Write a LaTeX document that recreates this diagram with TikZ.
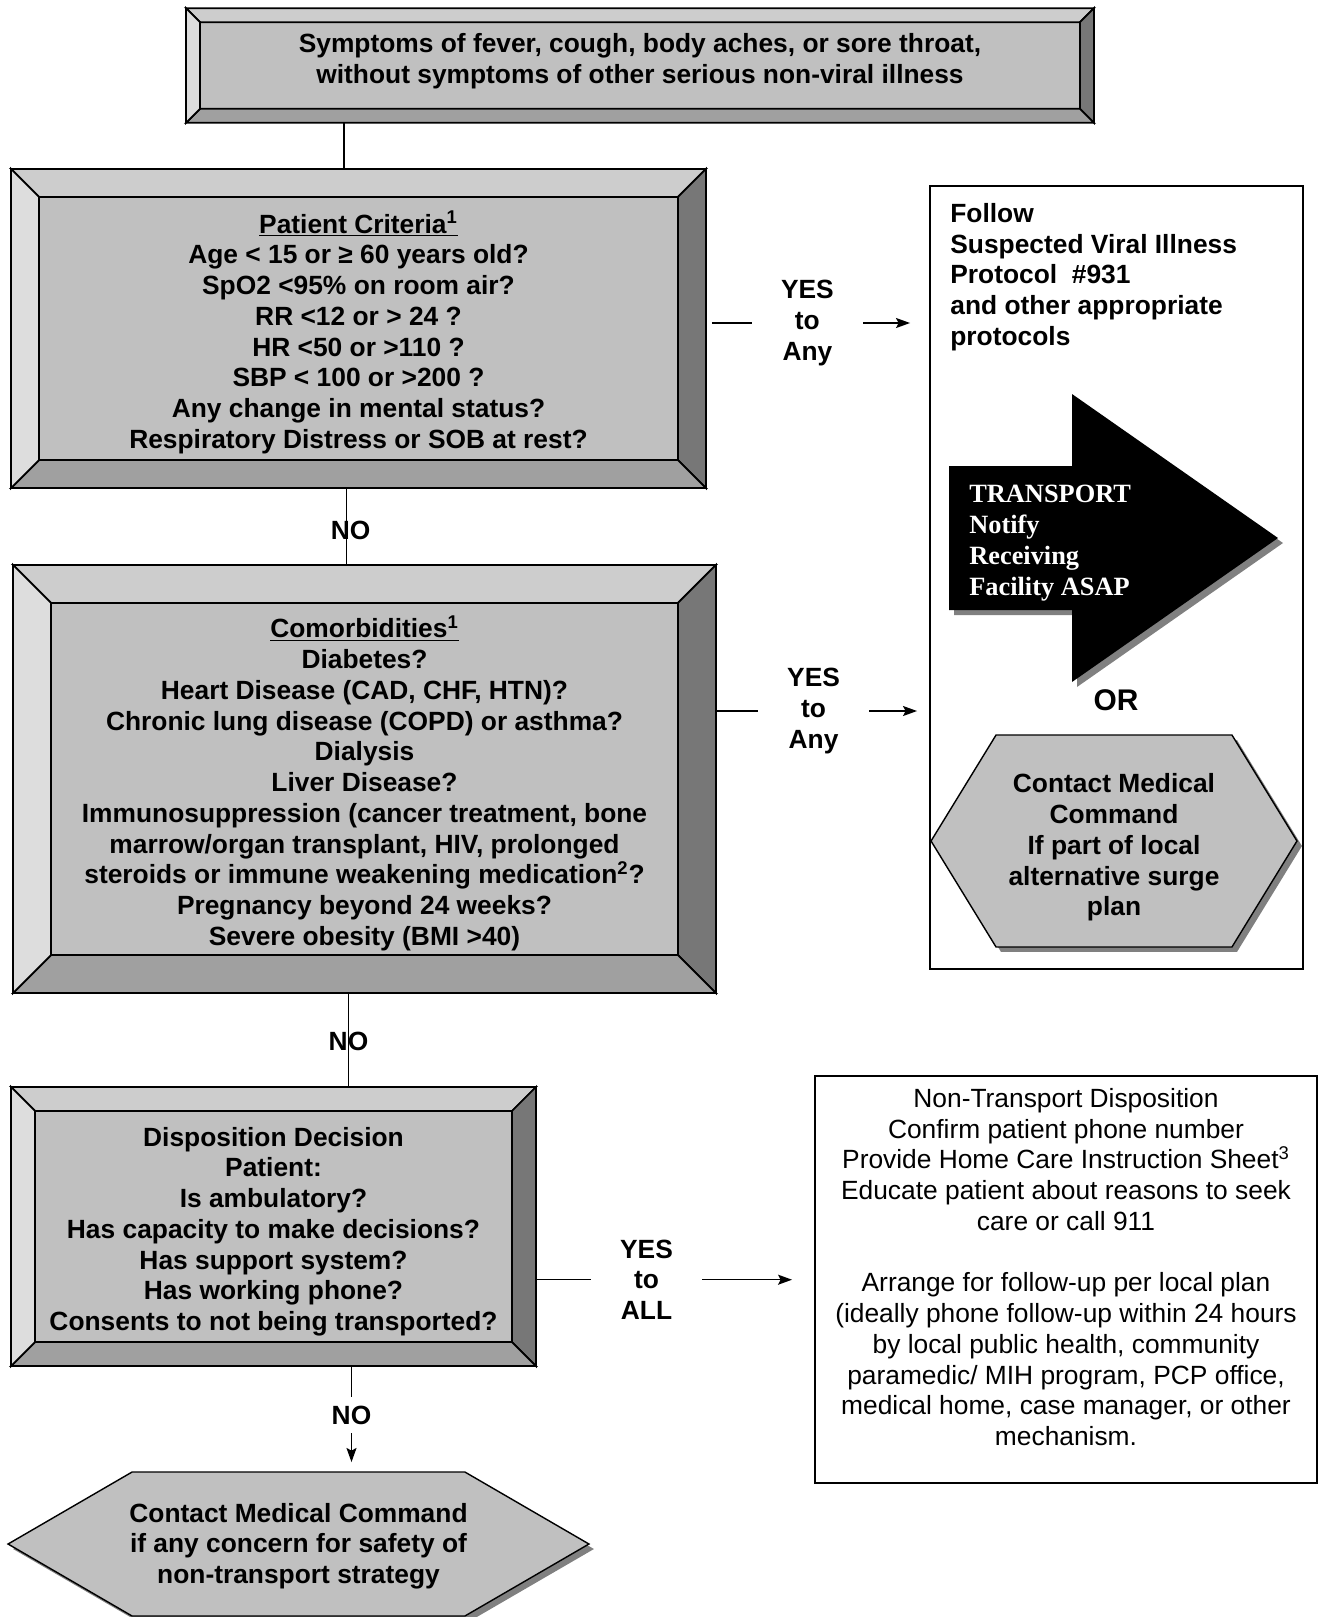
\documentclass[tikz,border=0pt]{standalone}
\usepackage{fontspec}
\setmainfont{Liberation Sans}
\newfontfamily\timesfont{Liberation Serif}
\usetikzlibrary{arrows.meta,backgrounds}

\definecolor{bevInner}{HTML}{C0C0C0}
\definecolor{bevTop}{HTML}{CDCDCD}
\definecolor{bevLeft}{HTML}{DDDDDD}
\definecolor{bevRight}{HTML}{777777}
\definecolor{bevBottom}{HTML}{A0A0A0}
\definecolor{shadowGray}{HTML}{808080}

\begin{document}
\begin{tikzpicture}
[x=0.02cm, y=-0.02cm,
 bevelDecorate/.style={shape=rectangle,inner sep=0pt,outer sep=0pt,fill=bevInner},
 plainDecorate/.style={shape=rectangle,inner sep=0pt,outer sep=0pt,draw,line width=0.9pt},
 textDecorate/.style={inner sep=0pt,font=\fontsize{15}{17.5}\selectfont\bfseries},
 yesDecorate/.style={textDecorate,align=center,minimum width=2.22cm},
 hexDecorate/.style={shape=rectangle,inner sep=0pt,outer sep=0pt},
 hexShadow/.style={fill=shadowGray,transform canvas={shift={(0.1cm,-0.1cm)}}},
 hexBody/.style={fill=bevInner,draw,line width=0.8pt},
 arrowShadow/.style={fill=shadowGray,transform canvas={shift={(0.1cm,-0.1cm)}}},
 arrowBody/.style={fill=black}]
\useasboundingbox (0,0) rectangle (1321,1617);
%% bevelled boxes
\node (Symptoms) at (640,65.5) [bevelDecorate,minimum width=18.16cm,minimum height=2.29cm] {};
\node (Criteria) at (358.5,328.5) [bevelDecorate,minimum width=13.9cm,minimum height=6.38cm] {};
\node (Comorb) at (364.5,779) [bevelDecorate,minimum width=14.06cm,minimum height=8.56cm] {};
\node (Dispo) at (273.5,1226.5) [bevelDecorate,minimum width=10.5cm,minimum height=5.58cm] {};
\foreach \boxname/\bv in {Symptoms/14, Criteria/28, Comorb/38, Dispo/24}
{
  \coordinate (\boxname-a) at ([shift={(\bv,\bv)}]\boxname.north west);
  \coordinate (\boxname-b) at ([shift={(-\bv,\bv)}]\boxname.north east);
  \coordinate (\boxname-c) at ([shift={(-\bv,-\bv)}]\boxname.south east);
  \coordinate (\boxname-d) at ([shift={(\bv,-\bv)}]\boxname.south west);
  \filldraw[fill=bevTop,line width=1pt,line join=miter]
    (\boxname.north west) -- (\boxname.north east) -- (\boxname-b) -- (\boxname-a) -- cycle;
  \filldraw[fill=bevRight,line width=1pt,line join=miter]
    (\boxname.north east) -- (\boxname.south east) -- (\boxname-c) -- (\boxname-b) -- cycle;
  \filldraw[fill=bevBottom,line width=1pt,line join=miter]
    (\boxname.south east) -- (\boxname.south west) -- (\boxname-d) -- (\boxname-c) -- cycle;
  \filldraw[fill=bevLeft,line width=1pt,line join=miter]
    (\boxname.south west) -- (\boxname.north west) -- (\boxname-a) -- (\boxname-d) -- cycle;
}
\node (SymptomsText) at (640,61) [textDecorate,align=center]
  {Symptoms of fever, cough, body aches, or sore throat,\\
   without symptoms of other serious non-viral illness};
\node (CriteriaText) at (358.5,332.5) [textDecorate,align=center]
  {\underline{Patient Criteria\textsuperscript{1}}\\
   Age < 15 or ≥ 60 years old?\\
   SpO2 <95\% on room air?\\
   RR <12 or > 24 ?\\
   HR <50 or >110 ?\\
   SBP < 100 or >200 ?\\
   Any change in mental status?\\
   Respiratory Distress or SOB at rest?};
\node (ComorbText) at (364.5,783.5) [textDecorate,align=center]
  {\underline{Comorbidities\textsuperscript{1}}\\
   Diabetes?\\
   Heart Disease (CAD, CHF, HTN)?\\
   Chronic lung disease (COPD) or asthma?\\
   Dialysis\\
   Liver Disease?\\
   Immunosuppression (cancer treatment, bone\\
   marrow/organ transplant, HIV, prolonged\\
   steroids or immune weakening medication\textsuperscript{2}?\\
   Pregnancy beyond 24 weeks?\\
   Severe obesity (BMI >40)};
\node (DispoText) at (273.5,1231.5) [textDecorate,align=center]
  {Disposition Decision\\
   Patient:\\
   Is ambulatory?\\
   Has capacity to make decisions?\\
   Has support system?\\
   Has working phone?\\
   Consents to not being transported?};
%% outcome boxes
\node (Follow) at (1116.5,577.5) [plainDecorate,minimum width=7.46cm,minimum height=15.66cm] {};
\node (FollowText) at (950,277) [textDecorate,anchor=west,align=left]
  {Follow\\
   Suspected Viral Illness\\
   Protocol\ \ \#931\\
   and other appropriate\\
   protocols};
\foreach \sty in {arrowShadow, arrowBody}
{
  \path[\sty] (949,466) -- (1072,466) -- (1072,394) -- (1278,538) -- (1072,682)
    -- (1072,610) -- (949,610) -- cycle;
}
\node (Transport) at (969,543) [inner sep=0pt,anchor=west,align=left,text=white,
  font=\timesfont\fontsize{15}{17.5}\selectfont\bfseries]
  {TRANSPORT\\
   Notify\\
   Receiving\\
   Facility ASAP};
\node (Or) at (1116,700) [inner sep=0pt,font=\fontsize{17}{20}\selectfont\bfseries] {OR};
\node (CmdR) at (1114,841) [hexDecorate,minimum width=7.32cm,minimum height=4.24cm] {};
\node (CmdRText) at (1114,847.5) [textDecorate,align=center]
  {Contact Medical\\
   Command\\
   If part of local\\
   alternative surge\\
   plan};
\node (NonTransport) at (1066,1279.5) [plainDecorate,minimum width=10.04cm,minimum height=8.14cm] {};
\node (NonTransportText) at (1066,1267) [inner sep=0pt,align=center,
  font=\fontsize{15}{17.5}\selectfont]
  {Non-Transport Disposition\\
   Confirm patient phone number\\
   Provide Home Care Instruction Sheet\textsuperscript{3}\\
   Educate patient about reasons to seek\\
   care or call 911\\[17.5pt]
   Arrange for follow-up per local plan\\
   (ideally phone follow-up within 24 hours\\
   by local public health, community\\
   paramedic/ MIH program, PCP office,\\
   medical home, case manager, or other\\
   mechanism.};
\node (CmdB) at (298.5,1544) [hexDecorate,minimum width=11.62cm,minimum height=2.88cm] {};
\node (CmdBText) at (298.5,1546) [textDecorate,align=center]
  {Contact Medical Command\\
   if any concern for safety of\\
   non-transport strategy};
\begin{scope}[on background layer]
\foreach \hexname/\ch in {CmdR/65, CmdB/124}
{
  \foreach \sty in {hexShadow, hexBody}
  {
    \path[\sty] (\hexname.west) -- ([shift={(\ch,0)}]\hexname.north west)
      -- ([shift={(-\ch,0)}]\hexname.north east) -- (\hexname.east)
      -- ([shift={(-\ch,0)}]\hexname.south east)
      -- ([shift={(\ch,0)}]\hexname.south west) -- cycle;
  }
}
\end{scope}
%% labels
\node (No1) at (350.6,530) [textDecorate] {NO};
\node (No2) at (348.5,1041.5) [textDecorate] {NO};
\node (No3) at (351.5,1415) [textDecorate,inner sep=0.17cm] {NO};
\node (Yes1) at (807.4,323) [yesDecorate] {YES\\to\\Any};
\node (Yes2) at (813.6,711) [yesDecorate] {YES\\to\\Any};
\node (Yes3) at (646.5,1279.7) [yesDecorate] {YES\\to\\ALL};
%% edges or lines
\tikzstyle{edgeDecorate}=[-,line width=0.7pt]
\tikzstyle{arrowDecorate}=[-{Stealth[length=0.28cm,width=0.2cm,inset=0.05cm]},line width=0.7pt]
\draw[edgeDecorate] ([shift={(-296,0)}]Symptoms.south) -- ([shift={(-14.5,0)}]Criteria.north);
\draw[edgeDecorate] ([shift={(-12,0)}]Criteria.south) -- ([shift={(-18,0)}]Comorb.north);
\draw[edgeDecorate] ([shift={(-16,0)}]Comorb.south) -- ([shift={(75,0)}]Dispo.north);
\draw[edgeDecorate] ([shift={(78,0)}]Dispo.south) -- (No3.north);
\draw[arrowDecorate,shorten >=0.2cm] (No3.south) -- (No3.south |- CmdB.north);
\draw[edgeDecorate,shorten <=0.12cm] (Criteria.east |- Yes1.west) -- (Yes1.west);
\draw[arrowDecorate,shorten >=0.4cm] (Yes1.east) -- (Yes1.east -| Follow.west);
\draw[edgeDecorate] (Comorb.east |- Yes2.west) -- (Yes2.west);
\draw[arrowDecorate,shorten >=0.26cm] (Yes2.east) -- (Yes2.east -| Follow.west);
\draw[edgeDecorate] (Dispo.east |- Yes3.west) -- (Yes3.west);
\draw[arrowDecorate,shorten >=0.46cm] (Yes3.east) -- (Yes3.east -| NonTransport.west);
\end{tikzpicture}
\end{document}
